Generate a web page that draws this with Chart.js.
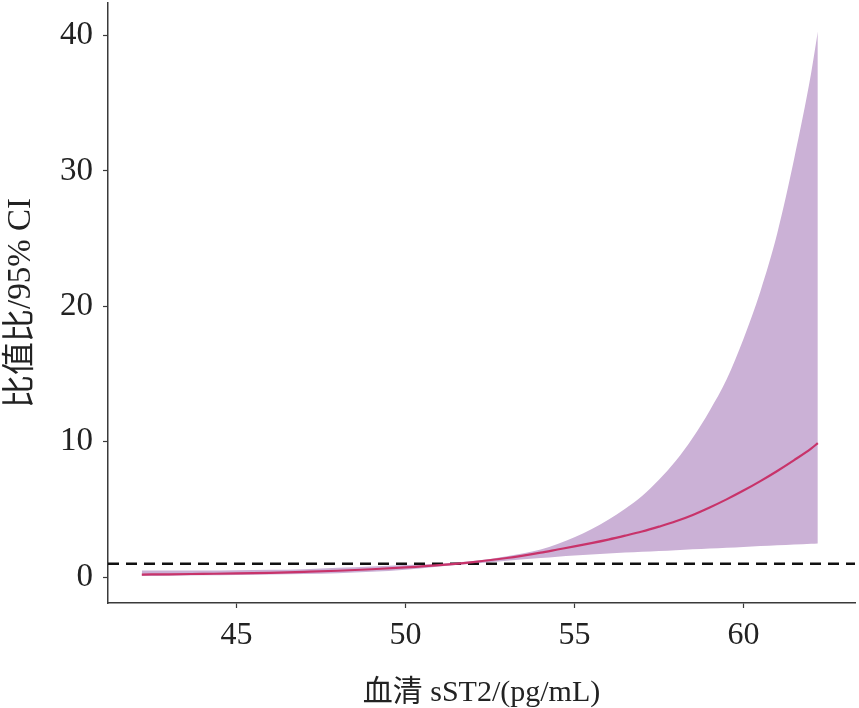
<!DOCTYPE html>
<html>
<head>
<meta charset="utf-8">
<script src="https://cdn.jsdelivr.net/npm/chart.js@4.4.1/dist/chart.umd.min.js"></script>
<style>
    html, body { margin: 0; padding: 0; background: #fff; }
    #wrap { width: 859px; height: 708px; }
</style>
</head>
<body>
<div id="wrap"><canvas id="orChart"></canvas></div>
<script>
// sST2 values (pg/mL)
const sst2 = [42.2, 43, 44, 45, 46, 47, 48, 49, 50, 51, 52, 53,
    54, 54.5, 55, 55.5, 56, 56.5, 57, 57.5, 58, 58.5, 59, 59.5, 60, 60.5, 61, 61.5, 62, 62.2];
// odds ratio and 95% CI bounds
const oddsRatio = [0.20, 0.22, 0.25, 0.28, 0.33, 0.40, 0.48, 0.59, 0.73, 0.90, 1.12, 1.42,
    1.82, 2.05, 2.28, 2.52, 2.78, 3.07, 3.38, 3.74, 4.13, 4.6, 5.15, 5.75, 6.4, 7.1, 7.85, 8.65, 9.5, 9.9];
const ciUpper = [0.5, 0.5, 0.5, 0.52, 0.55, 0.6, 0.7, 0.8, 0.9, 1.0, 1.2, 1.55,
    2.05, 2.45, 2.95, 3.55, 4.25, 5.05, 6.0, 7.2, 8.6, 10.3, 12.3, 14.6, 17.6, 21.1, 25.4, 30.9, 37.2, 40.3];
const ciLower = [0.1, 0.12, 0.15, 0.17, 0.2, 0.25, 0.3, 0.4, 0.55, 0.8, 1.0, 1.22,
    1.42, 1.52, 1.6, 1.68, 1.75, 1.82, 1.88, 1.94, 2.0, 2.06, 2.12, 2.18, 2.24, 2.3, 2.36, 2.42, 2.48, 2.5];
// reference line OR = 1
const refX = [41.2, 63.3];
const refY = [1, 1];
const xTicks = [45, 50, 55, 60];
const yTicks = [0, 10, 20, 30, 40];

const toPoints = (xs, ys) => xs.map((x, i) => ({ x, y: ys[i] }));

const serif = '"Liberation Serif", "Noto Sans CJK SC", serif';
const axisColor = '#3a3a3a';

const chart = new Chart(document.getElementById('orChart'), {
    type: 'line',
    data: {
        datasets: [
            {
                label: 'upper',
                data: toPoints(sst2, ciUpper),
                borderWidth: 0,
                pointRadius: 0,
                backgroundColor: '#CBB1D6',
                fill: '+1',
                order: 3,
                cubicInterpolationMode: 'monotone'
            },
            {
                label: 'lower',
                data: toPoints(sst2, ciLower),
                borderWidth: 0,
                pointRadius: 0,
                fill: false,
                order: 2,
                cubicInterpolationMode: 'monotone'
            },
            {
                label: 'OR',
                data: toPoints(sst2, oddsRatio),
                borderColor: '#C8336A',
                borderWidth: 2.2,
                pointRadius: 0,
                fill: false,
                order: 0,
                cubicInterpolationMode: 'monotone'
            },
            {
                label: 'ref',
                data: toPoints(refX, refY),
                borderColor: '#111',
                borderWidth: 2.4,
                borderDash: [11, 7],
                pointRadius: 0,
                fill: false,
                order: 1
            }
        ]
    },
    options: {
        responsive: true,
        maintainAspectRatio: false,
        animation: false,
        layout: {
            padding: { top: 3, right: 4, left: 0, bottom: 0 }
        },
        plugins: {
            legend: { display: false },
            tooltip: { enabled: false }
        },
        scales: {
            x: {
                type: 'linear',
                min: 41.2,
                max: 63.3,
                afterFit: scale => {
                    scale.height = 105;
                    scale.paddingLeft = 0;
                    scale.paddingRight = 0;
                },
                afterBuildTicks: scale => { scale.ticks = xTicks.map(v => ({ value: v })); },
                grid: {
                    drawOnChartArea: false,
                    drawTicks: true,
                    tickLength: 5,
                    tickColor: axisColor,
                    tickWidth: 1.2
                },
                border: { display: true, color: axisColor, width: 1.5 },
                ticks: {
                    color: '#222',
                    padding: 8,
                    maxRotation: 0,
                    font: { family: serif, size: 32 }
                },
                title: {
                    display: true,
                    text: '血清 sST2/(pg/mL)',
                    color: '#222',
                    padding: { top: 0, bottom: -3 },
                    font: { family: serif, size: 30 }
                }
            },
            y: {
                type: 'linear',
                min: -1.9,
                max: 42.4,
                afterFit: scale => {
                    scale.width = 108;
                    scale.paddingTop = 0;
                    scale.paddingBottom = 0;
                },
                afterBuildTicks: scale => { scale.ticks = yTicks.map(v => ({ value: v })); },
                grid: {
                    drawOnChartArea: false,
                    drawTicks: true,
                    tickLength: 5,
                    tickColor: axisColor,
                    tickWidth: 1.2
                },
                border: { display: true, color: axisColor, width: 1.5 },
                ticks: {
                    color: '#222',
                    padding: 10,
                    font: { family: serif, size: 33 }
                },
                title: {
                    display: true,
                    text: '比值比/95% CI',
                    color: '#222',
                    padding: { top: 2, bottom: 0 },
                    font: { family: serif, size: 33 }
                }
            }
        }
    }
});
</script>
</body>
</html>
